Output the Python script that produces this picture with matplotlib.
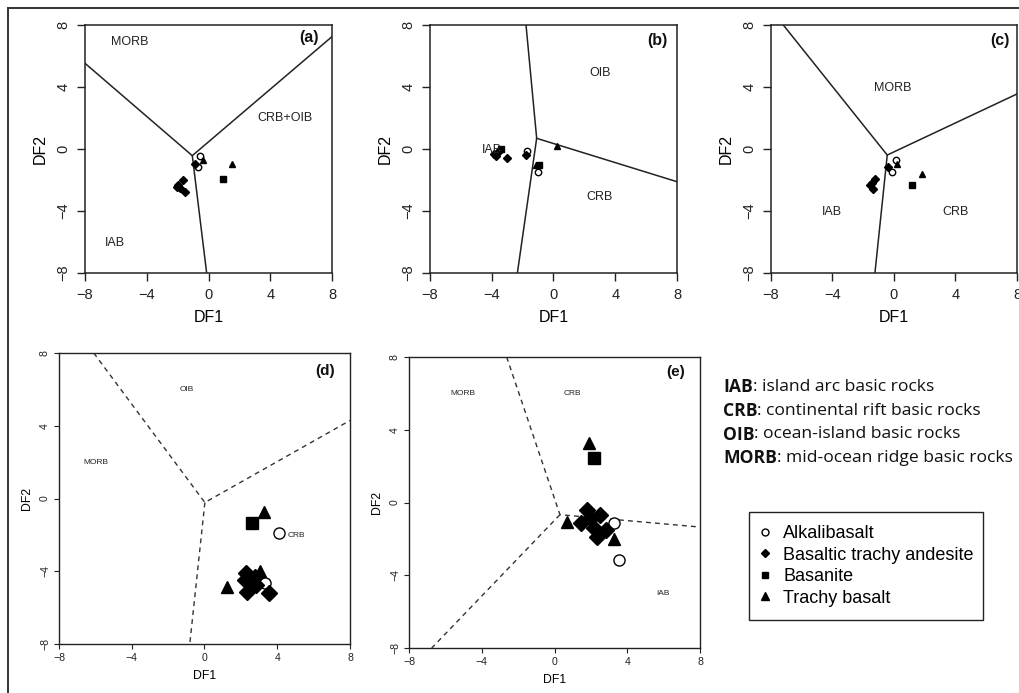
import matplotlib
matplotlib.use('Agg')
import matplotlib.pyplot as plt
from matplotlib.lines import Line2D
from matplotlib.patches import Rectangle

plt.rcParams['font.family'] = ['Liberation Sans', 'DejaVu Sans']

W, H = 1020, 693
TICKS = [-8, -4, 0, 4, 8]

# ---------------- boundaries (DF1, DF2) ----------------
A_B1_X = [-8, -1.05, 8];    A_B1_Y = [5.53, -0.43, 7.25]
A_B2_X = [-1.05, -0.12];    A_B2_Y = [-0.43, -8]
B_B1_X = [-1.78, -1.09, -2.34]; B_B1_Y = [8, 0.69, -8]
B_B2_X = [-1.09, 8];        B_B2_Y = [0.69, -2.11]
C_B1_X = [-7.2, -0.44, 8];  C_B1_Y = [8, -0.39, 3.55]
C_B2_X = [-0.44, -1.24];    C_B2_Y = [-0.39, -8]
D_B1_X = [-6.09, 0.02, 8];  D_B1_Y = [8, -0.22, 4.29]
D_B2_X = [0.02, -0.81];     D_B2_Y = [-0.22, -8]
E_B1_X = [-2.63, 0.30, 8];  E_B1_Y = [8, -0.67, -1.35]
E_B2_X = [0.30, -6.75];     E_B2_Y = [-0.67, -8]

# ---------------- samples ----------------
# panel (a)
A_ALK_X = [-0.55, -0.66]; A_ALK_Y = [-0.45, -1.14]
A_BTA_X = [-0.87, -1.67, -2.06, -1.85, -1.52, -1.95]
A_BTA_Y = [-0.99, -2.00, -2.43, -2.54, -2.75, -2.32]
A_BAS_X = [0.92]; A_BAS_Y = [-1.94]
A_TB_X = [-0.34, 1.50]; A_TB_Y = [-0.71, -0.97]
# panel (b)
B_ALK_X = [-1.70, -0.98]; B_ALK_Y = [-0.11, -1.46]
B_BTA_X = [-1.78, -3.72, -3.46, -3.03, -3.60, -3.85]
B_BTA_Y = [-0.40, -0.45, -0.06, -0.60, -0.20, -0.35]
B_BAS_X = [-0.92, -3.40]; B_BAS_Y = [-1.03, 0.02]
B_TB_X = [0.20, -1.15]; B_TB_Y = [0.19, -1.05]
# panel (c)
C_ALK_X = [0.13, -0.13]; C_ALK_Y = [-0.71, -1.46]
C_BTA_X = [-0.37, -1.24, -1.56, -1.35, -1.45]
C_BTA_Y = [-1.18, -1.95, -2.32, -2.60, -2.20]
C_BAS_X = [1.15]; C_BAS_Y = [-2.34]
C_TB_X = [0.20, 1.84]; C_TB_Y = [-0.97, -1.61]
# panel (d)
D_ALK_X = [4.11, 3.32]; D_ALK_Y = [-1.91, -4.66]
D_BTA_X = [2.28, 2.35, 2.50, 2.75, 2.85, 3.52, 2.20]
D_BTA_Y = [-4.11, -5.12, -4.60, -4.30, -4.78, -5.19, -4.50]
D_BAS_X = [2.62]; D_BAS_Y = [-1.32]
D_TB_X = [3.27, 1.21, 3.05]; D_TB_Y = [-0.72, -4.88, -3.98]
# panel (e)
E_ALK_X = [3.27, 3.57]; E_ALK_Y = [-1.13, -3.14]
E_BTA_X = [1.81, 1.44, 1.99, 2.50, 2.17, 2.83, 2.32]
E_BTA_Y = [-0.39, -1.13, -0.83, -0.71, -1.38, -1.53, -1.90]
E_BAS_X = [2.17]; E_BAS_Y = [2.46]
E_TB_X = [1.92, 0.70, 3.27]; E_TB_Y = [3.27, -1.07, -1.99]

# ---------------- region labels ----------------
A_LAB = [("MORB", -5.08, 6.92), ("CRB+OIB", 4.96, 1.98), ("IAB", -6.06, -6.04)]
B_LAB = [("OIB", 3.01, 4.92), ("CRB", 3.01, -3.08), ("IAB", -4.0, -0.06)]
C_LAB = [("MORB", -0.05, 3.92), ("IAB", -4.05, -4.04), ("CRB", 4.03, -4.04)]
D_LAB = [("OIB", -0.99, 5.98), ("MORB", -5.98, 1.98), ("CRB", 5.03, -2.04)]
E_LAB = [("MORB", -5.01, 5.98), ("CRB", 1.0, 5.98), ("IAB", 5.98, -5.01)]

LEGEND_LABELS = ["Alkalibasalt", "Basaltic trachy andesite", "Basanite", "Trachy basalt"]
KEY_TERMS = ["IAB", "CRB", "OIB", "MORB"]
KEY_TEXT = [": island arc basic rocks", ": continental rift basic rocks",
            ": ocean-island basic rocks", ": mid-ocean ridge basic rocks"]

fig = plt.figure(figsize=(W / 100, H / 100), dpi=100)


def add_ax(l, t, r, b):
    return fig.add_axes([l / W, 1 - b / H, (r - l) / W, (b - t) / H])


def setup(ax, small):
    ax.set_xlim(-8, 8)
    ax.set_ylim(-8, 8)
    ax.set_xticks(TICKS)
    ax.set_yticks(TICKS)
    for s in ax.spines.values():
        s.set_linewidth(1.0 if small else 1.1)
        s.set_color('#222222')
    if small:
        ax.tick_params(direction='out', length=3.5, width=0.8, labelsize=7.6, pad=3,
                       colors='#222222')
        ax.set_xlabel("DF1", fontsize=8.8, labelpad=5)
        ax.set_ylabel("DF2", fontsize=8.8, labelpad=5)
    else:
        ax.tick_params(direction='out', length=5.5, width=1.0, labelsize=10.5, pad=5,
                       colors='#222222')
        ax.set_xlabel("DF1", fontsize=11.5, labelpad=6)
        ax.set_ylabel("DF2", fontsize=11.5, labelpad=6)
    for lab in ax.get_yticklabels():
        lab.set_rotation(90)
        lab.set_va('center')


def draw(ax, b1, b2, alk, bta, bas, tb, labs, tag, small):
    setup(ax, small)
    if small:
        ls = dict(color='#333333', lw=1.0, ls=(0, (3.5, 3)))
        ms = dict(o=8, D=7.8, s=8, t=8.8)
        lfs = 6
        tagfs = 11
    else:
        ls = dict(color='#222222', lw=1.1, ls='-')
        ms = dict(o=4.6, D=3.6, s=3.8, t=4.4)
        lfs = 9
        tagfs = 11.5
    ax.plot(b1[0], b1[1], **ls)
    ax.plot(b2[0], b2[1], **ls)
    ax.plot(alk[0], alk[1], 'o', mfc='white', mec='black', mew=1.0, ms=ms['o'], ls='none')
    ax.plot(bta[0], bta[1], 'D', color='black', ms=ms['D'], ls='none')
    ax.plot(bas[0], bas[1], 's', color='black', ms=ms['s'], ls='none')
    ax.plot(tb[0], tb[1], '^', color='black', ms=ms['t'], ls='none')
    for t, x, y in labs:
        ax.text(x, y, t, fontsize=lfs, ha='center', va='center', color='#222222')
    ax.text(tag[1], tag[2], tag[0], fontsize=tagfs, fontweight='bold',
            ha='center', va='center', color='#111111')


axa = add_ax(85, 25, 332, 273)
draw(axa, (A_B1_X, A_B1_Y), (A_B2_X, A_B2_Y), (A_ALK_X, A_ALK_Y), (A_BTA_X, A_BTA_Y),
     (A_BAS_X, A_BAS_Y), (A_TB_X, A_TB_Y), A_LAB, ("(a)", 6.5, 7.2), False)
axb = add_ax(430, 25, 677, 273)
draw(axb, (B_B1_X, B_B1_Y), (B_B2_X, B_B2_Y), (B_ALK_X, B_ALK_Y), (B_BTA_X, B_BTA_Y),
     (B_BAS_X, B_BAS_Y), (B_TB_X, B_TB_Y), B_LAB, ("(b)", 6.7, 7.0), False)
axc = add_ax(771, 25, 1017, 273)
draw(axc, (C_B1_X, C_B1_Y), (C_B2_X, C_B2_Y), (C_ALK_X, C_ALK_Y), (C_BTA_X, C_BTA_Y),
     (C_BAS_X, C_BAS_Y), (C_TB_X, C_TB_Y), C_LAB, ("(c)", 6.9, 7.0), False)
axd = add_ax(59, 353, 350, 644)
draw(axd, (D_B1_X, D_B1_Y), (D_B2_X, D_B2_Y), (D_ALK_X, D_ALK_Y), (D_BTA_X, D_BTA_Y),
     (D_BAS_X, D_BAS_Y), (D_TB_X, D_TB_Y), D_LAB, ("(d)", 6.62, 6.99), True)
axe = add_ax(409, 357, 700, 648)
draw(axe, (E_B1_X, E_B1_Y), (E_B2_X, E_B2_Y), (E_ALK_X, E_ALK_Y), (E_BTA_X, E_BTA_Y),
     (E_BAS_X, E_BAS_Y), (E_TB_X, E_TB_Y), E_LAB, ("(e)", 6.66, 7.18), True)

# legend (entries without frame, frame drawn as a separate box)
handles = [
    Line2D([], [], marker='o', mfc='white', mec='black', mew=1.0, ms=5, ls='none'),
    Line2D([], [], marker='D', color='black', ms=4, ls='none'),
    Line2D([], [], marker='s', color='black', ms=5, ls='none'),
    Line2D([], [], marker='^', color='black', ms=6, ls='none'),
]
leg = fig.legend(handles, LEGEND_LABELS, loc='upper left',
                 bbox_to_anchor=(757.8 / W, 1 - 525.0 / H), fontsize=13, frameon=False,
                 handlelength=0.8, handletextpad=0.6,
                 labelspacing=0.25, borderpad=0.0, borderaxespad=0)
fig.add_artist(Rectangle((749 / W, 1 - 620 / H), (983 - 749) / W, (620 - 512) / H,
                         transform=fig.transFigure, fill=False, edgecolor='#222222', lw=1.0))

# key text
fig.canvas.draw()
ys = [386.7, 411.0, 434.5, 458.3]
for term, rest, y in zip(KEY_TERMS, KEY_TEXT, ys):
    t1 = fig.text(723 / W, 1 - y / H, term, fontsize=12.6, fontweight='bold',
                  family=['Open Sans', 'DejaVu Sans'], va='center', ha='left',
                  color='#111111')
    fig.canvas.draw()
    bb = t1.get_window_extent()
    fig.text(bb.x1 / W, 1 - y / H, rest, fontsize=12.6,
             family=['Open Sans', 'DejaVu Sans'], va='center', ha='left', color='#111111')

# outer frame
fig.add_artist(Line2D([8 / W, 8 / W], [0, 1 - 8 / H], color='#333333', lw=1.4))
fig.add_artist(Line2D([8 / W, 1], [1 - 8 / H, 1 - 8 / H], color='#333333', lw=1.4))

fig.savefig('out.png', dpi=100)
